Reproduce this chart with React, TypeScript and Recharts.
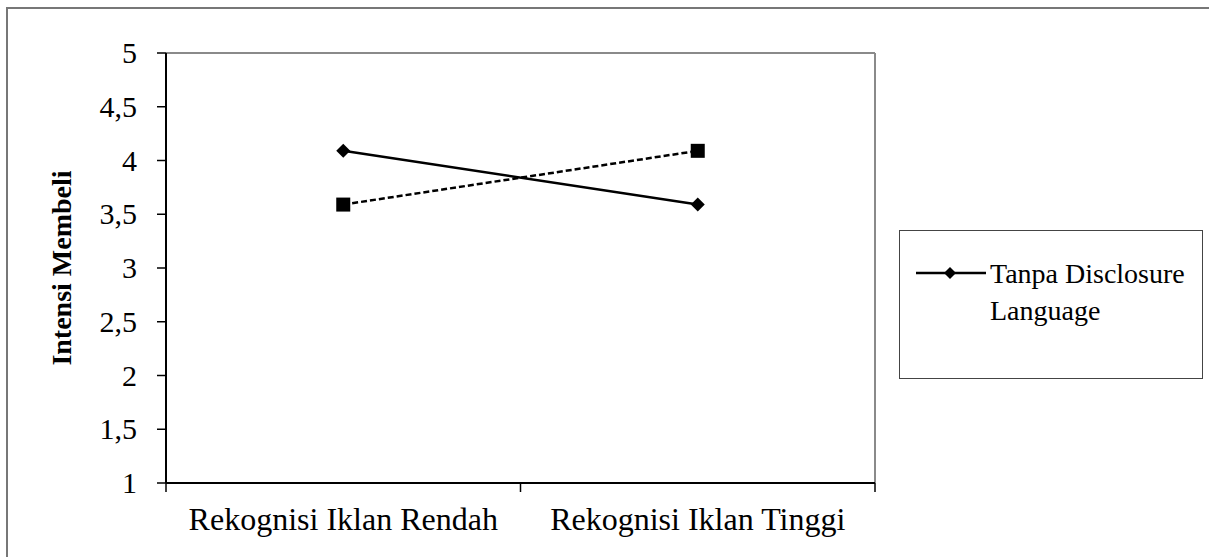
import { Line, LineChart, ReferenceLine, XAxis, YAxis } from "recharts";

const categories = ["Rekognisi Iklan Rendah", "Rekognisi Iklan Tinggi"];
const tanpaDisclosure = [4.09, 3.59];
const denganDisclosure = [3.59, 4.09];
const yTicks = [1, 1.5, 2, 2.5, 3, 3.5, 4, 4.5, 5];
const xTicks = [0, 0.5, 1, 1.5, 2];

const data = categories.map((name, i) => ({
  name,
  idx: i + 0.5,
  tanpa: tanpaDisclosure[i],
  dengan: denganDisclosure[i],
}));

const FONT = "'Liberation Serif', 'Times New Roman', serif";

// eslint-disable-next-line @typescript-eslint/no-explicit-any
const Diamond = (props: any) => {
  const { cx, cy } = props;
  if (cx == null || cy == null) return null;
  const r = 7;
  return <polygon points={`${cx},${cy - r} ${cx + r},${cy} ${cx},${cy + r} ${cx - r},${cy}`} fill="#000" />;
};

// eslint-disable-next-line @typescript-eslint/no-explicit-any
const Square = (props: any) => {
  const { cx, cy } = props;
  if (cx == null || cy == null) return null;
  const s = 14;
  return <rect x={cx - s / 2} y={cy - s / 2} width={s} height={s} fill="#000" />;
};

// category labels sit between the boundary tick marks
// eslint-disable-next-line @typescript-eslint/no-explicit-any
const XTick = (props: any) => {
  const { x, y, payload } = props;
  const v = payload.value as number;
  if (Number.isInteger(v)) {
    return <line x1={x} y1={y} x2={x} y2={y + 9} stroke="#000" strokeWidth={1.5} />;
  }
  const label = categories[Math.floor(v)];
  return (
    <text x={x} y={y + 47} textAnchor="middle" fontFamily={FONT} fontSize={32} fill="#000">
      {label}
    </text>
  );
};

// eslint-disable-next-line @typescript-eslint/no-explicit-any
const YTick = (props: any) => {
  const { x, y, payload } = props;
  return (
    <text x={x} y={y + 10} textAnchor="end" fontFamily={FONT} fontSize={30} fill="#000">
      {String(payload.value).replace(".", ",")}
    </text>
  );
};

const LegendBox = () => (
  <div
    style={{
      position: "absolute",
      left: 899,
      top: 230,
      width: 302,
      height: 147,
      border: "1px solid #444",
      background: "#fff",
      fontFamily: FONT,
      fontSize: 28,
      color: "#000",
    }}
  >
    <svg width={72} height={20} style={{ position: "absolute", left: 16, top: 32 }}>
      <line x1={0} y1={10} x2={70} y2={10} stroke="#000" strokeWidth={2.5} />
      <polygon points="34,4 40,10 34,16 28,10" fill="#000" />
    </svg>
    <div style={{ position: "absolute", left: 90, top: 24, lineHeight: "37px" }}>
      Tanpa Disclosure
      <br />
      Language
    </div>
  </div>
);

export default function App() {
  return (
    <div style={{ position: "absolute", left: 0, top: 0, width: 1209, height: 557, background: "#fff", overflow: "hidden" }}>
      <div
        style={{
          position: "absolute",
          left: 6,
          top: 7,
          width: 1220,
          height: 580,
          border: "2px solid #777",
        }}
      />
      <div
        style={{
          position: "absolute",
          left: 62,
          top: 268,
          transform: "translate(-50%, -50%) rotate(-90deg)",
          fontFamily: FONT,
          fontWeight: "bold",
          fontSize: 28,
          whiteSpace: "nowrap",
        }}
      >
        Intensi Membeli
      </div>
      <div style={{ position: "absolute", left: 0, top: 0 }}>
        <LineChart width={1209} height={557} data={data} margin={{ top: 53, right: 334, left: 106, bottom: 34 }}>
          <XAxis
            type="number"
            dataKey="idx"
            domain={[0, 2]}
            ticks={xTicks}
            interval={0}
            tick={<XTick />}
            tickLine={false}
            tickSize={0}
            tickMargin={0}
            axisLine={{ stroke: "#000", strokeWidth: 2 }}
            height={40}
          />
          <YAxis
            domain={[1, 5]}
            ticks={yTicks}
            interval={0}
            tick={<YTick />}
            tickSize={9}
            tickMargin={20}
            width={60}
            tickLine={{ stroke: "#000", strokeWidth: 1.5 }}
            axisLine={{ stroke: "#000", strokeWidth: 2 }}
          />
          <ReferenceLine y={5} stroke="#8a8a8a" strokeWidth={2} />
          <ReferenceLine x={2} stroke="#8a8a8a" strokeWidth={2} />
          <Line
            dataKey="tanpa"
            name="Tanpa Disclosure Language"
            stroke="#000"
            strokeWidth={2.5}
            dot={<Diamond />}
            activeDot={false}
            isAnimationActive={false}
          />
          <Line
            dataKey="dengan"
            name="Dengan Disclosure Language"
            stroke="#000"
            strokeWidth={2.5}
            strokeDasharray="6 3"
            dot={<Square />}
            activeDot={false}
            isAnimationActive={false}
          />
        </LineChart>
      </div>
      <LegendBox />
    </div>
  );
}
